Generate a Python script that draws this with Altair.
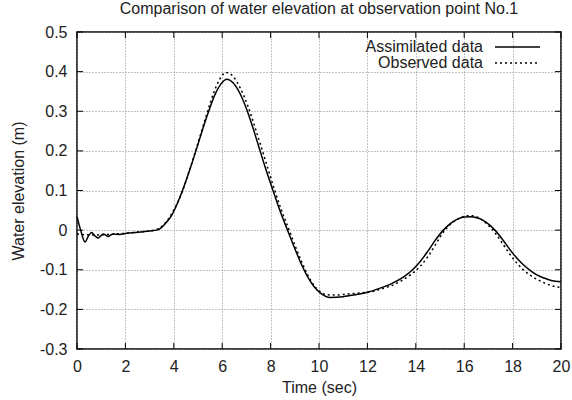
import altair as alt
import pandas as pd

# Assimilated data (solid)
t_assim = [0, 0.15, 0.33, 0.47, 0.6, 0.75, 0.88, 1.0, 1.09, 1.2, 1.29, 1.4, 1.5, 1.75, 2.05,
           2.4, 2.74, 3.0, 3.29, 3.5, 3.7, 3.9, 4.05, 4.26, 4.45, 4.67, 4.94, 5.2, 5.43, 5.7,
           5.95, 6.19, 6.45, 6.75, 7.01, 7.25, 7.49, 7.77, 8.1, 8.4, 8.75, 9.05, 9.3, 9.55,
           9.8, 10.1, 10.45, 11.0, 11.5, 12.0, 12.5, 13.0, 13.5, 13.9, 14.2, 14.5, 14.8, 15.14,
           15.4, 15.7, 16.0, 16.3, 16.6, 16.9, 17.27, 17.6, 18.0, 18.4, 18.75, 19.0, 19.3, 19.6, 20.0]
h_assim = [0.034, 0.0, -0.03, -0.015, -0.006, -0.015, -0.02, -0.013, -0.01, -0.013, -0.016, -0.012,
           -0.01, -0.011, -0.008, -0.006, -0.004, -0.002, 0.0, 0.007, 0.02, 0.036, 0.054, 0.084,
           0.115, 0.154, 0.205, 0.256, 0.298, 0.342, 0.369, 0.381, 0.372, 0.343, 0.305, 0.262,
           0.215, 0.16, 0.1, 0.047, -0.008, -0.054, -0.09, -0.12, -0.143, -0.161, -0.17, -0.168,
           -0.163, -0.157, -0.147, -0.135, -0.118, -0.098, -0.078, -0.053, -0.026, 0.0, 0.015,
           0.027, 0.033, 0.034, 0.03, 0.02, 0.0, -0.025, -0.058, -0.085, -0.103, -0.113, -0.121,
           -0.127, -0.13]

# Observed data (dotted)
t_obs = [0, 0.5, 1.0, 1.5, 2.0, 2.5, 3.0, 3.3, 3.6, 3.9, 4.1, 4.35, 4.6, 4.9, 5.15, 5.38, 5.65,
         5.9, 6.15, 6.45, 6.75, 7.08, 7.3, 7.55, 7.85, 8.15, 8.45, 8.8, 9.05, 9.3, 9.55, 9.8,
         10.05, 10.3, 10.7, 11.2, 11.8, 12.2, 12.6, 13.0, 13.4, 13.8, 14.2, 14.5, 14.8, 15.2,
         15.5, 15.8, 16.1, 16.35, 16.65, 16.95, 17.25, 17.6, 17.9, 18.2, 18.5, 18.8, 19.2, 19.6, 20.0]
h_obs = [-0.01, -0.012, -0.012, -0.01, -0.008, -0.005, -0.002, 0.002, 0.015, 0.04, 0.062, 0.097,
         0.142, 0.2, 0.25, 0.297, 0.347, 0.381, 0.398, 0.388, 0.358, 0.31, 0.27, 0.222, 0.163,
         0.104, 0.05, -0.005, -0.045, -0.082, -0.115, -0.14, -0.155, -0.163, -0.164, -0.161,
         -0.158, -0.155, -0.148, -0.14, -0.128, -0.112, -0.09, -0.067, -0.038, 0.0, 0.018, 0.03,
         0.036, 0.036, 0.029, 0.015, -0.005, -0.035, -0.062, -0.085, -0.103, -0.117, -0.13,
         -0.14, -0.145]

x_ticks = [0, 2, 4, 6, 8, 10, 12, 14, 16, 18, 20]
y_ticks = [-0.3, -0.2, -0.1, 0.0, 0.1, 0.2, 0.3, 0.4, 0.5]
series_names = ["Assimilated data", "Observed data"]
chart_title = "Comparison of water elevation at observation point No.1"

FONT = "Liberation Sans"
FS = 16
TXT = "#222"
W, H = 484, 317
TL = 6  # inward tick length

xs = alt.Scale(domain=[0, 20], nice=False, zero=False)
ys = alt.Scale(domain=[-0.3, 0.5], nice=False, zero=False)

yfmt = ("datum.value == 0 ? '0' : (datum.value < 0 ? '-' + format(-datum.value, '.1f')"
        " : format(datum.value, '.1f'))")

df_a = pd.DataFrame({"t": t_assim, "h": h_assim})
df_o = pd.DataFrame({"t": t_obs, "h": h_obs})
df_xt = pd.DataFrame({"v": x_ticks})
df_yt = pd.DataFrame({"v": y_ticks})

base_axes = alt.Chart(df_xt).mark_rule(opacity=0).encode(
    x=alt.X("v:Q", scale=xs, axis=alt.Axis(values=x_ticks, tickCount=30, title="Time (sec)",
                                           format="d", grid=True, ticks=False, domain=False,
                                           labelPadding=9, titlePadding=5, labelFlush=False,
                                           labelOverlap=False)),
    y=alt.Y("v:Q", scale=ys, axis=alt.Axis(values=y_ticks, tickCount=30,
                                           title="Water elevation (m)", labelExpr=yfmt,
                                           grid=True, ticks=False, domain=False, labelPadding=10,
                                           titlePadding=13, labelFlush=False, labelOverlap=False)),
)

line_a = alt.Chart(df_a).mark_line(color="black", strokeWidth=1.5, interpolate="monotone").encode(
    x=alt.X("t:Q", scale=xs), y=alt.Y("h:Q", scale=ys))
line_o = alt.Chart(df_o).mark_line(color="black", strokeWidth=1.5, strokeDash=[2, 3],
                                   interpolate="monotone").encode(
    x=alt.X("t:Q", scale=xs), y=alt.Y("h:Q", scale=ys))

tick_style = dict(color="black", strokeWidth=1)
xt_bot = alt.Chart(df_xt).mark_rule(**tick_style).encode(
    x=alt.X("v:Q", scale=xs), y=alt.value(H), y2=alt.value(H - TL))
xt_top = alt.Chart(df_xt).mark_rule(**tick_style).encode(
    x=alt.X("v:Q", scale=xs), y=alt.value(0), y2=alt.value(TL))
yt_left = alt.Chart(df_yt).mark_rule(**tick_style).encode(
    y=alt.Y("v:Q", scale=ys), x=alt.value(0), x2=alt.value(TL))
yt_right = alt.Chart(df_yt).mark_rule(**tick_style).encode(
    y=alt.Y("v:Q", scale=ys), x=alt.value(W), x2=alt.value(W - TL))

title_mark = alt.Chart(pd.DataFrame({"s": [chart_title]})).mark_text(
    align="center", baseline="middle", font=FONT, fontSize=FS, color=TXT).encode(
    text="s:N", x=alt.value(W / 2), y=alt.value(-23))

# key (gnuplot style: label left of sample)
leg_text_a = alt.Chart(pd.DataFrame({"s": [series_names[0]]})).mark_text(
    align="right", baseline="middle", font=FONT, fontSize=FS, color=TXT).encode(
    text="s:N", x=alt.value(406), y=alt.value(15))
leg_text_o = alt.Chart(pd.DataFrame({"s": [series_names[1]]})).mark_text(
    align="right", baseline="middle", font=FONT, fontSize=FS, color=TXT).encode(
    text="s:N", x=alt.value(406), y=alt.value(31))
leg_line_a = alt.Chart(pd.DataFrame({"s": [series_names[0]]})).mark_rule(
    color="black", strokeWidth=1.5).encode(x=alt.value(418), x2=alt.value(463), y=alt.value(15))
leg_line_o = alt.Chart(pd.DataFrame({"s": [series_names[1]]})).mark_rule(
    color="black", strokeWidth=1.5, strokeDash=[2, 3]).encode(
    x=alt.value(418), x2=alt.value(463), y=alt.value(31))

chart = alt.layer(
    base_axes, line_o, line_a, xt_bot, xt_top, yt_left, yt_right, title_mark,
    leg_text_a, leg_text_o, leg_line_a, leg_line_o
).properties(
    width=W, height=H,
    background="white",
    autosize=alt.AutoSizeParams(type="none"),
    padding={"left": 77, "top": 32, "right": 11, "bottom": 51},
).configure_view(
    stroke="black", strokeWidth=1.5
).configure_axis(
    labelFont=FONT, labelFontSize=FS, labelColor=TXT,
    titleFont=FONT, titleFontSize=FS, titleFontWeight="normal", titleColor=TXT,
    gridColor="#888", gridDash=[1, 2], gridWidth=1, gridOpacity=1,
)

chart.save("out.html", embed_options={"renderer": "svg", "actions": False})
